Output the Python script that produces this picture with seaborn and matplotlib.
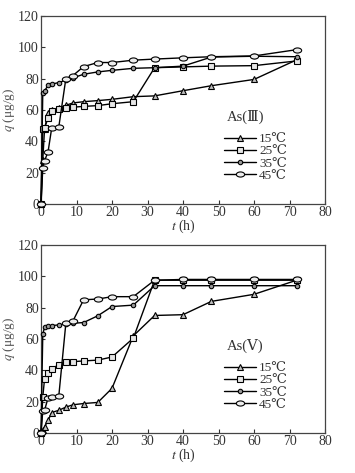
import numpy as np
import pandas as pd
import seaborn as sns
import matplotlib
matplotlib.use("Agg")
import matplotlib.pyplot as plt
from matplotlib.markers import MarkerStyle
from matplotlib.transforms import Affine2D

# sampling times (h)
t_hours = [0, 0.5, 1, 2, 3, 5, 7, 9, 12, 16, 20, 26, 32, 40, 48, 60, 72]
temps = ["15℃", "25℃", "35℃", "45℃"]

# As(III) adsorption q (ug/g)
as3_15 = [0, 28, 48, 58, 60, 61, 63, 64.5, 65.3, 66, 66.8, 68.5, 69, 72.3, 75.5, 79.5, 92]
as3_25 = [0, 48, 48.5, 55, 59.5, 60.5, 61.3, 61.8, 62.3, 62.8, 64, 65.3, 87, 87.5, 88, 88.3, 91.3]
as3_35 = [0, 71, 72, 76, 76.5, 77.5, 79, 80.5, 82.8, 84.3, 85.3, 86.6, 87, 88, 93.8, 94.3, 94]
as3_45 = [0, 22.8, 27.5, 33.5, 48.3, 49, 80, 82, 87.7, 90.3, 90.3, 91.8, 92.5, 93.3, 94, 94.5, 98.5]

# As(V) adsorption q (ug/g)
as5_15 = [0, 2, 4, 8, 13, 14.5, 16.5, 18, 18.8, 19.5, 28.5, 62, 75, 75.5, 84, 88.5, 97.5]
as5_25 = [0, 23, 34.5, 38, 41, 43.5, 45, 45.5, 46, 46.5, 48.5, 60.5, 97.5, 97.5, 97.5, 97.5, 97.5]
as5_35 = [0, 63, 67.5, 68.5, 68.5, 69, 69.5, 70, 70.5, 74.8, 80.7, 81.6, 94, 94, 94, 94, 94]
as5_45 = [0, 14, 14.5, 22.5, 23, 23.3, 70, 71.5, 85, 85.5, 87, 87, 97.5, 98, 98, 98, 98]

sns.set_theme(style="ticks")
plt.rcParams["font.family"] = ["Liberation Serif", "DejaVu Serif", "Noto Sans CJK SC"]
plt.rcParams["mathtext.fontset"] = "stix"

ellipse = MarkerStyle("o", transform=Affine2D().scale(1.3, 0.8))
styles = [
    dict(marker="^", markersize=4.8, markerfacecolor="#bdbdbd"),
    dict(marker="s", markersize=4.3, markerfacecolor="#e6e6e6"),
    dict(marker="o", markersize=3.2, markerfacecolor="#9a9a9a"),
    dict(marker=ellipse, markersize=4.6, markerfacecolor="#ececec"),
]

fig = plt.figure(figsize=(3.55, 4.73), dpi=100)
ax1 = fig.add_axes([0.1155, 0.5687, 0.80, 0.3975])
ax2 = fig.add_axes([0.1155, 0.0846, 0.80, 0.3975])

panels = [
    (ax1, [as3_15, as3_25, as3_35, as3_45], "As(Ⅲ)"),
    (ax2, [as5_15, as5_25, as5_35, as5_45], "As(Ⅴ)"),
]

for ax, series, title in panels:
    df = pd.DataFrame({"t": t_hours})
    for name, vals, st in zip(temps, series, styles):
        df[name] = vals
        sns.lineplot(data=df, x="t", y=name, ax=ax, color="black", lw=1.0,
                     markeredgecolor="black", markeredgewidth=0.8,
                     clip_on=False, label=name, zorder=3, **st)
    ax.set_xlim(0, 80)
    ax.set_ylim(0, 120)
    ax.set_xticks(np.arange(0, 81, 10))
    ax.set_yticks(np.arange(0, 121, 20))
    ax.tick_params(direction="in", length=3, width=0.8, labelsize=10,
                   colors="#333333", pad=1.5)
    for sp in ax.spines.values():
        sp.set_visible(True)
        sp.set_linewidth(0.9)
        sp.set_color("#444444")
    ax.set_xlabel("$t$ (h)", fontsize=10, color="#333333", labelpad=-1)
    ax.set_ylabel("$q$ (μg/g)", fontsize=9.5, color="#555555", labelpad=0.5)
    leg = ax.legend(loc="upper left", bbox_to_anchor=(0.645, 0.378), frameon=False,
                    fontsize=9.5, handlelength=2.4, handletextpad=0.25,
                    labelspacing=0.0, borderpad=0, borderaxespad=0)
    for txt in leg.get_texts():
        txt.set_color("#333333")
    ax.text(0.655, 0.463, title, transform=ax.transAxes, fontsize=10.5,
            va="center", ha="left", color="#333333")

fig.savefig("out.png", dpi=100)
